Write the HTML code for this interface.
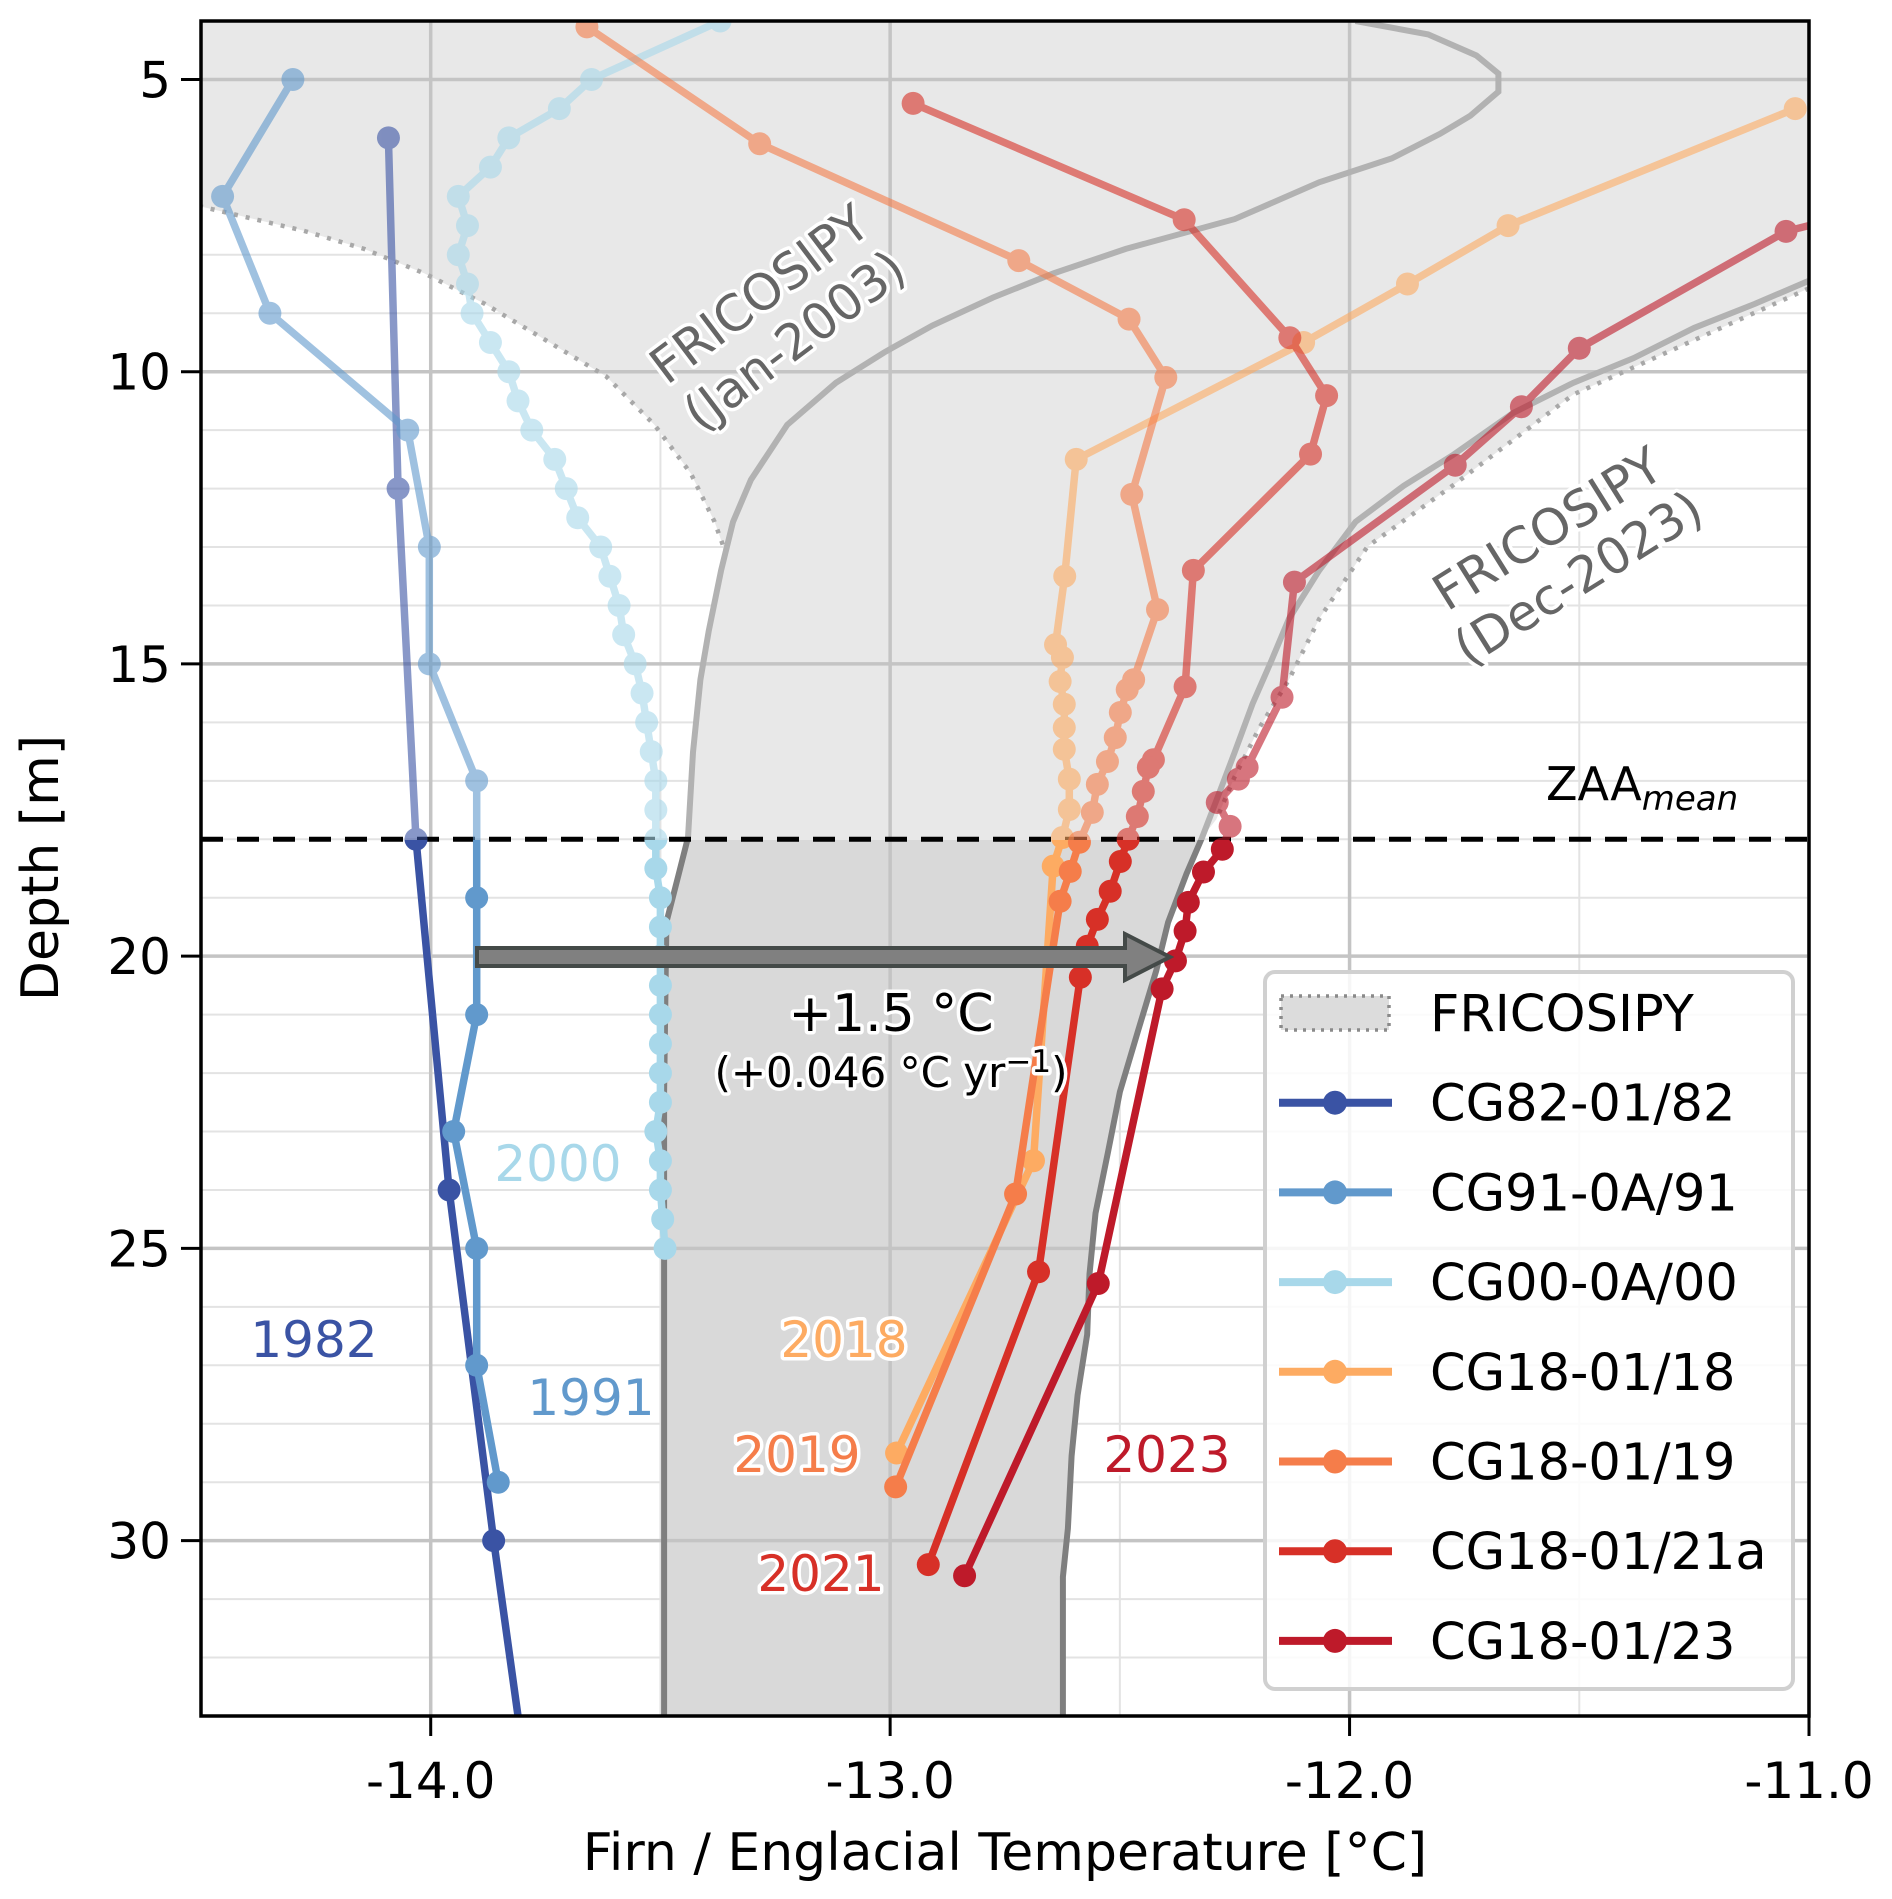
<!DOCTYPE html>
<html><head><meta charset="utf-8"><style>
html,body{margin:0;padding:0;background:#fff}
svg{display:block;font-family:"DejaVu Sans","Liberation Sans",sans-serif}
.halo{paint-order:stroke;stroke:#fff;stroke-width:7;stroke-linejoin:round}
</style></head><body>
<svg id="chart" width="1892" height="1899" viewBox="0 0 1892 1899" xmlns="http://www.w3.org/2000/svg">
<defs>
<clipPath id="plotClip"><rect x="201" y="21" width="1608" height="1695"/></clipPath>
<clipPath id="aboveClip"><rect x="201" y="21" width="1608" height="819"/></clipPath>
<clipPath id="belowClip"><rect x="201" y="840" width="1608" height="876"/></clipPath>
</defs>
<g id="grid"></g>
<g id="fills" clip-path="url(#plotClip)"></g>
<g id="series"></g>
<g id="axes"></g>
<g id="annot"></g>
<g id="legend"></g>
</svg>
<script>
// ---- data ----
const xTicks = [-14.0, -13.0, -12.0, -11.0];
const xTickLabels = ["-14.0", "-13.0", "-12.0", "-11.0"];
const yTicks = [5, 10, 15, 20, 25, 30];
const yTickLabels = ["5", "10", "15", "20", "25", "30"];
const zaaDepth = 18;

const cg82T = [-14.092, -14.071, -14.032, -13.96, -13.863, -13.81];
const cg82D = [6.0, 12.0, 18.0, 24.0, 30.0, 33.0];
const cg91T = [-14.3, -14.453, -14.35, -14.05, -14.003, -14.003, -13.9, -13.9, -13.9, -13.95, -13.9, -13.9, -13.853];
const cg91D = [5, 7, 9, 11, 13, 15, 17, 19, 21, 23, 25, 27, 29];
const cg00T = [-13.37, -13.65, -13.72, -13.83, -13.87, -13.94, -13.92, -13.94, -13.92, -13.91, -13.87, -13.83, -13.81, -13.78, -13.73, -13.705, -13.68, -13.63, -13.61, -13.59, -13.58, -13.555, -13.54, -13.53, -13.52, -13.51, -13.51, -13.51, -13.51, -13.5, -13.5, -13.5, -13.5, -13.5, -13.5, -13.5, -13.5, -13.51, -13.5, -13.5, -13.495, -13.49];
const cg00D = [4.0, 5.0, 5.5, 6.0, 6.5, 7.0, 7.5, 8.0, 8.5, 9.0, 9.5, 10.0, 10.5, 11.0, 11.5, 12.0, 12.5, 13.0, 13.5, 14.0, 14.5, 15.0, 15.5, 16.0, 16.5, 17.0, 17.5, 18.0, 18.5, 19.0, 19.5, 20.0, 20.5, 21.0, 21.5, 22.0, 22.5, 23.0, 23.5, 24.0, 24.5, 25.0];
const cg18T = [-11.03, -11.655, -11.874, -12.1, -12.595, -12.62, -12.64, -12.625, -12.63, -12.621, -12.621, -12.621, -12.61, -12.61, -12.625, -12.645, -12.688, -12.986];
const cg18D = [5.5, 7.5, 8.5, 9.5, 11.5, 13.5, 14.67, 14.89, 15.3, 15.69, 16.09, 16.46, 16.97, 17.49, 17.97, 18.46, 23.5, 28.5];
const cg19T = [-13.66, -13.284, -12.72, -12.48, -12.40, -12.474, -12.418, -12.47, -12.484, -12.499, -12.51, -12.527, -12.549, -12.56, -12.588, -12.608, -12.63, -12.727, -12.988];
const cg19D = [4.1, 6.1, 8.1, 9.1, 10.1, 12.1, 14.07, 15.27, 15.44, 15.83, 16.26, 16.67, 17.06, 17.54, 18.05, 18.55, 19.06, 24.07, 29.08];
const cg21T = [-12.95, -12.36, -12.13, -12.05, -12.085, -12.34, -12.358, -12.427, -12.438, -12.449, -12.462, -12.482, -12.499, -12.521, -12.549, -12.571, -12.586, -12.677, -12.917];
const cg21D = [5.41, 7.4, 9.42, 10.41, 11.41, 13.4, 15.39, 16.64, 16.77, 17.18, 17.61, 18.0, 18.38, 18.89, 19.37, 19.83, 20.36, 25.4, 30.41];
const cg23T = [-10.9, -11.05, -11.5, -11.626, -11.77, -12.12, -12.147, -12.223, -12.242, -12.288, -12.26, -12.277, -12.318, -12.351, -12.358, -12.379, -12.408, -12.547, -12.838];
const cg23D = [7.3, 7.6, 9.6, 10.6, 11.6, 13.6, 15.57, 16.77, 16.97, 17.37, 17.78, 18.17, 18.56, 19.08, 19.57, 20.08, 20.56, 25.6, 30.6];
const cg23Hidden = [0];
const cg82Hidden = [5];

const jan2003T = [-11.987, -11.829, -11.724, -11.676, -11.676, -11.737, -11.803, -11.908, -12.066, -12.25, -12.487, -12.645, -12.776, -12.908, -13.013, -13.118, -13.224, -13.303, -13.342, -13.368, -13.395, -13.413, -13.429, -13.44, -13.46, -13.487, -13.492, -13.492];
const jan2003D = [4.0, 4.23, 4.59, 4.9, 5.21, 5.62, 5.93, 6.35, 6.76, 7.39, 7.9, 8.32, 8.73, 9.21, 9.67, 10.19, 10.91, 11.85, 12.57, 13.4, 14.44, 15.27, 16.51, 17.97, 18.59, 19.42, 22.32, 33.0];
const dec2023T = [-10.8, -11.005, -11.118, -11.25, -11.382, -11.513, -11.645, -11.776, -11.882, -11.987, -12.066, -12.132, -12.171, -12.211, -12.25, -12.29, -12.321, -12.355, -12.395, -12.421, -12.461, -12.5, -12.526, -12.553, -12.566, -12.571, -12.592, -12.605, -12.613, -12.624, -12.624];
const dec2023D = [7.9, 8.46, 8.84, 9.25, 9.77, 10.19, 10.71, 11.43, 11.95, 12.57, 13.4, 14.23, 14.96, 15.68, 16.51, 17.34, 17.97, 18.59, 19.42, 20.25, 21.29, 22.32, 23.36, 24.4, 25.44, 26.47, 27.51, 28.55, 29.79, 30.62, 33.0];
const envMinT = [-14.6, -14.6, -14.497, -14.276, -14.145, -14.013, -13.882, -13.75, -13.618, -13.513, -13.434, -13.382, -13.363];
const envMinD = [4.0, 6.9, 7.18, 7.59, 7.9, 8.32, 8.84, 9.46, 10.08, 10.91, 11.74, 12.57, 12.99];
const envMaxT = [-10.9, -10.9, -11.005, -11.25, -11.513, -11.776, -11.961, -12.066, -12.132, -12.197, -12.25, -12.29];
const envMaxD = [4.0, 8.3, 8.59, 9.46, 10.39, 11.95, 12.99, 14.23, 15.27, 16.1, 16.93, 17.66];

// ---- scales ----
const X0 = 201, X1 = 1809, Y0 = 21, Y1 = 1716;
const xMin = -14.5, xMax = -11.0, depthMin = 4, depthMax = 33;
function xs(t){ return X0 + (t - xMin) / (xMax - xMin) * (X1 - X0); }
function ys(d){ return Y0 + (d - depthMin) / (depthMax - depthMin) * (Y1 - Y0); }

const NS = "http://www.w3.org/2000/svg";
function mk(tag, attrs, parent){
  const e = document.createElementNS(NS, tag);
  for (const k in attrs) e.setAttribute(k, attrs[k]);
  if (parent) parent.appendChild(e);
  return e;
}
function pts(T, D){ return T.map((t,i)=>xs(t).toFixed(1)+","+ys(D[i]).toFixed(1)).join(" "); }

// ---- grid ----
const grid = document.getElementById("grid");
for (let d = 5; d <= 33; d++) {
  if (d % 5 === 0) continue;
  const l = mk("line", {x1:X0, x2:X1, y1:ys(d), y2:ys(d), stroke:"#e3e3e3", "stroke-width":2}, grid);
  
  
}
for (let t = -14.5; t <= -11; t += 0.5) {
  if (Math.abs(t - Math.round(t)) < 1e-6) continue;
  const l = mk("line", {x1:xs(t), x2:xs(t), y1:Y0, y2:Y1, stroke:"#e3e3e3", "stroke-width":2}, grid);
  
  
}

// ---- fills ----
const fills = document.getElementById("fills");
const janFrom = jan2003D.findIndex(d => d >= 13.4);
const decFrom = dec2023D.findIndex(d => d >= 17.97);
const leftT = envMinT.concat(jan2003T.slice(janFrom));
const leftD = envMinD.concat(jan2003D.slice(janFrom));
const rightT = envMaxT.concat(dec2023T.slice(decFrom));
const rightD = envMaxD.concat(dec2023D.slice(decFrom));
const polyStr = pts(leftT, leftD) + " " + pts(rightT.slice().reverse(), rightD.slice().reverse());
const env = mk("polygon", {points: polyStr, fill:"#e8e8e8"}, fills);


const envLow = mk("polygon", {points: polyStr, fill:"#d9d9d9", "clip-path":"url(#belowClip)"}, fills);



for (let i = 0; i < yTicks.length; i++) {
  const l = mk("line", {x1:X0, x2:X1, y1:ys(yTicks[i]), y2:ys(yTicks[i]), stroke:"#c4c4c4", "stroke-width":3.5}, fills);
  
  
}
for (let i = 0; i < xTicks.length; i++) {
  const l = mk("line", {x1:xs(xTicks[i]), x2:xs(xTicks[i]), y1:Y0, y2:Y1, stroke:"#c4c4c4", "stroke-width":3.5}, fills);
  
  
}
const dotMin = mk("polyline", {points: pts(envMinT, envMinD), fill:"none", stroke:"#a8a8a8", "stroke-width":4.5, "stroke-dasharray":"4 8"}, fills);


const dotMax = mk("polyline", {points: pts(envMaxT, envMaxD), fill:"none", stroke:"#a8a8a8", "stroke-width":4.5, "stroke-dasharray":"4 8"}, fills);


[["jan-2003-profile", jan2003T, jan2003D], ["dec-2023-profile", dec2023T, dec2023D]].forEach(p => {
  const a = mk("polyline", {points: pts(p[1], p[2]), fill:"none", stroke:"#b2b2b2", "stroke-width":6, "clip-path":"url(#aboveClip)"}, fills);
  
  
  const b = mk("polyline", {points: pts(p[1], p[2]), fill:"none", stroke:"#7f7f7f", "stroke-width":6, "clip-path":"url(#belowClip)"}, fills);
  
  
});

const zaa = mk("line", {x1:X0, x2:X1, y1:ys(zaaDepth), y2:ys(zaaDepth), stroke:"#000", "stroke-width":5, "stroke-dasharray":"22 14"}, fills);



// ---- series ----
const seriesG = document.getElementById("series");
const seriesList = [
  {name:"cg82-01-82", T:cg82T, D:cg82D, c:"#3a53a4", hidden:cg82Hidden},
  {name:"cg91-0a-91", T:cg91T, D:cg91D, c:"#6199cc", hidden:[]},
  {name:"cg00-0a-00", T:cg00T, D:cg00D, c:"#a8d8ea", hidden:[]},
  {name:"cg18-01-18", T:cg18T, D:cg18D, c:"#fdab62", hidden:[]},
  {name:"cg18-01-19", T:cg19T, D:cg19D, c:"#f57d4a", hidden:[]},
  {name:"cg18-01-21a", T:cg21T, D:cg21D, c:"#d73027", hidden:[]},
  {name:"cg18-01-23", T:cg23T, D:cg23D, c:"#be1a2a", hidden:cg23Hidden}
];
seriesList.forEach(s => {
  [["above", "url(#aboveClip)", 0.6], ["below", "url(#belowClip)", 1]].forEach(part => {
    const g = mk("g", {"clip-path":part[1], opacity:part[2]}, seriesG);
    
    
    const pl = mk("polyline", {points: pts(s.T, s.D), fill:"none", stroke:s.c, "stroke-width":7.5, "stroke-linejoin":"round"}, g);
    
    
    s.T.forEach((t, i) => {
      if (s.hidden.indexOf(i) >= 0) return;
      const c = mk("circle", {cx:xs(t), cy:ys(s.D[i]), r:11.5, fill:s.c}, g);
      
      
    });
  });
});

// ---- axes ----
const axes = document.getElementById("axes");
const frame = mk("rect", {x:X0, y:Y0, width:X1-X0, height:Y1-Y0, fill:"none", stroke:"#000", "stroke-width":3.5}, axes);


xTicks.forEach((t, i) => {
  const tk = mk("line", {x1:xs(t), x2:xs(t), y1:Y1, y2:Y1+20, stroke:"#000", "stroke-width":3}, axes);
  
  
  const tx = mk("text", {x:xs(t), y:1798, "text-anchor":"middle", "font-size":50, fill:"#000"}, axes);
  tx.textContent = xTickLabels[i];
  
  
});
yTicks.forEach((d, i) => {
  const tk = mk("line", {x1:X0-20, x2:X0, y1:ys(d), y2:ys(d), stroke:"#000", "stroke-width":3}, axes);
  
  
  const tx = mk("text", {x:X0-30, y:ys(d)+18, "text-anchor":"end", "font-size":50, fill:"#000"}, axes);
  tx.textContent = yTickLabels[i];
  
  
});
const xt = mk("text", {x:1005, y:1870, "text-anchor":"middle", "font-size":52, fill:"#000"}, axes);
xt.textContent = "Firn / Englacial Temperature [°C]";


const yt = mk("text", {x:0, y:0, "text-anchor":"middle", "font-size":52, fill:"#000", transform:"translate(58,868) rotate(-90)"}, axes);
yt.textContent = "Depth [m]";



// ---- annotations ----
const an = document.getElementById("annot");
const arrow = mk("polygon", {points:"477,948 1125,948 1125,934 1170,957 1125,980 1125,966 477,966", fill:"#808080", stroke:"#444a48", "stroke-width":4, "stroke-linejoin":"miter"}, an);


function label(txt, x, y, size, color, name){
  const t = mk("text", {x:x, y:y, "text-anchor":"middle", "font-size":size, fill:color, class:"halo"}, an);
  t.textContent = txt;
  
  
  return t;
}
label("+1.5 °C", 891, 1031, 52, "#000", "warming-label");
const rt = mk("text", {x:891, y:1087, "text-anchor":"middle", "font-size":42, fill:"#000", class:"halo"}, an);
rt.innerHTML = '(+0.046 °C yr<tspan dy="-15" font-size="31">−1</tspan><tspan dy="15">)</tspan>';


label("1982", 314, 1357, 50, "#3a53a4", "year-label-1982");
label("1991", 591, 1415, 50, "#6199cc", "year-label-1991");
label("2000", 558, 1181, 50, "#a8d8ea", "year-label-2000");
label("2018", 844, 1357, 50, "#fdab62", "year-label-2018");
label("2019", 797, 1472, 50, "#f57d4a", "year-label-2019");
label("2021", 821, 1591, 50, "#d73027", "year-label-2021");
label("2023", 1167, 1472, 50, "#be1a2a", "year-label-2023");
const zt = mk("text", {x:1546, y:800, "font-size":46, fill:"#000"}, an);
zt.innerHTML = 'ZAA<tspan dy="10" font-size="34" font-style="italic">mean</tspan>';


function rlabel(l1, l2, cx, cy, ang, name){
  const g = mk("g", {transform:"translate("+cx+","+cy+") rotate("+ang+")"}, an);
  
  
  const a = mk("text", {x:0, y:-10, "text-anchor":"middle", "font-size":50, fill:"#666", class:"halo"}, g);
  a.textContent = l1;
  
  
  const b = mk("text", {x:0, y:48, "text-anchor":"middle", "font-size":50, fill:"#666", class:"halo"}, g);
  b.textContent = l2;
  
  
}
rlabel("FRICOSIPY", "(Jan-2003)", 776, 316, -37, "fricosipy-jan-2003-label");
rlabel("FRICOSIPY", "(Dec-2023)", 1562, 552, -32, "fricosipy-dec-2023-label");

// ---- legend ----
const lg = document.getElementById("legend");
const box = mk("rect", {x:1265, y:972, width:528, height:717, rx:10, fill:"#fff", "fill-opacity":0.85, stroke:"#d0d0d0", "stroke-width":4}, lg);


const legNames = ["CG82-01/82", "CG91-0A/91", "CG00-0A/00", "CG18-01/18", "CG18-01/19", "CG18-01/21a", "CG18-01/23"];
const ly0 = 1013, ldy = 89.7;
const fr = mk("rect", {x:1281, y:ly0-17, width:108, height:34, fill:"#dcdcdc", stroke:"#8a8a8a", "stroke-width":3.5, "stroke-dasharray":"3 6"}, lg);


const ft = mk("text", {x:1430, y:ly0+18, "font-size":51, fill:"#000"}, lg);
ft.textContent = "FRICOSIPY";


legNames.forEach((n, i) => {
  const y = ly0 + ldy*(i+1);
  const c = seriesList[i].c;
  const ln = mk("line", {x1:1279, x2:1392, y1:y, y2:y, stroke:c, "stroke-width":8}, lg);
  
  
  const ci = mk("circle", {cx:1335, cy:y, r:12, fill:c}, lg);
  
  
  const t = mk("text", {x:1430, y:y+18, "font-size":51, fill:"#000"}, lg);
  t.textContent = n;
  
  
});
</script>
</body></html>
